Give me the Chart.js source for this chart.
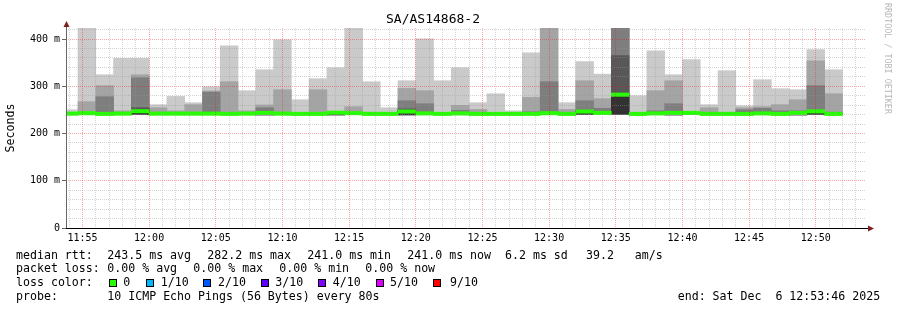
<!DOCTYPE html>
<html>
<head>
<meta charset="utf-8">
<script src="https://cdn.jsdelivr.net/npm/chart.js@4.4.1/dist/chart.umd.min.js"></script>
<style>
html, body { margin: 0; padding: 0; background: #fff; }
#wrap { position: relative; width: 897px; height: 310px; overflow: hidden; font-family: "DejaVu Sans Mono", monospace; }
#c { position: absolute; left: 0; top: 0; }
.t { position: absolute; font-size: 11.6px; line-height: 14px; white-space: pre; color: #000; }
.box { position: absolute; width: 6px; height: 6px; border: 1px solid #000; }
#wm { position: absolute; left: 883px; top: 3px; font-size: 8.4px; line-height: 9px; width: 9px; writing-mode: vertical-rl; color: #b8b8b8; white-space: pre; }
</style>
</head>
<body>
<div id="wrap">
  <canvas id="c" width="897" height="310"></canvas>
  <div id="wm">RRDTOOL / TOBI OETIKER</div>
  <div id="legend"></div>
</div>
<script>
// ---- data ----
const chartTitle = 'SA/AS14868-2';
const yTitle = 'Seconds';
const barTimes = ['11:54:00','11:55:20','11:56:40','11:58:00','11:59:20','12:00:40','12:02:00','12:03:20','12:04:40','12:06:00',
  '12:07:20','12:08:40','12:10:00','12:11:20','12:12:40','12:14:00','12:15:20','12:16:40','12:18:00','12:19:20',
  '12:20:40','12:22:00','12:23:20','12:24:40','12:26:00','12:27:20','12:28:40','12:30:00','12:31:20','12:32:40',
  '12:34:00','12:35:20','12:36:40','12:38:00','12:39:20','12:40:40','12:42:00','12:43:20','12:44:40','12:46:00',
  '12:47:20','12:48:40','12:50:00','12:51:20'];
// lowest ping (ms)
const rttLow = [240.8,240.8,240.5,240.8,240.8,240.8,240.8,240.8,240.8,240.5,
  240.8,239.5,240.8,240.5,240.5,239.5,240.8,240.5,240.5,239.5,
  240.8,240.5,240.8,240.5,240.5,240.5,240.8,240.8,240.5,240.8,
  240.8,240.8,240.5,240.8,239.5,240.8,240.5,240.5,240.5,240.8,
  240.5,239.5,240.8,240.5];
// upper edges of smoke layers: ping10 (max) ... ping6 (inner)
const ping10 = [250.4,424,324.4,359,359,261,278.5,265.2,299,385.8,
  290.6,335,398.5,271.5,316,339.3,424,309.6,254.6,311.7,
  400.6,311.7,339.3,265.2,284.2,248,371,424,265.2,352,
  325.6,424,280,375.2,324.4,356.2,261,332.9,258.8,313.9,
  294.8,292.7,377.4,335];
const ping9 = [244,267.3,301.2,248,324.4,254.6,248,261,290,309.6,
  248,260.3,292.7,244,292.7,246,256.7,245,244,295.5,
  290.6,244,259.6,251,244,243,276.4,424,251,311.7,
  273.7,424,244,290.6,311.7,247,254.6,245,254.6,256.7,
  261,271.5,354,284.2];
const ping8 = [243,245,277.9,243,318,243,243,243,287.6,244,
  243,254.6,244,242.5,244,244.5,244,242.5,242.5,269.4,
  263,242.5,249,243,242.5,242.5,246,309.6,243,269.4,
  253.5,424,242.5,248,263,244.5,243,242.5,250.3,253.5,
  248,248,301.2,245];
const ping7 = [242.6,243.6,244,242.6,254.6,242.6,242.6,242.6,244,242.5,
  242.6,244,242.6,242.2,242.5,244,243.5,242.2,242.2,252,
  244,242.2,243.5,242.2,242.2,242.2,242.5,245,242.2,248,
  245,364.7,242.2,243.5,245,244,242.2,242.2,242.5,245,
  242.5,244,248,242.5];
const ping6 = [242.3,243.2,242.5,242.3,250,242.3,242.3,242.3,242.5,242,
  242.3,243.5,242.3,242,242,243.5,243.2,242,242,249,
  243,242,243,242,242,242,242,243.5,242,247,
  244,283,242,243,244,243.8,242,242,242,243,
  242,243.8,247,242];
const medianRtt = [242.0,243.0,241.5,242.0,247.2,242.0,242.0,242.0,242.0,241.5,
  242.0,243.5,242.0,241.5,241.5,244.0,243.0,241.5,241.5,246.5,
  242.5,241.5,242.5,241.5,241.5,241.5,241.5,243.0,241.5,246.5,
  243.5,282.2,241.5,242.5,243.5,243.5,241.5,241.5,241.5,242.5,
  241.5,243.5,246.8,241.5];
const lossCount = [0,0,0,0,0,0,0,0,0,0, 0,0,0,0,0,0,0,0,0,0, 0,0,0,0,0,0,0,0,0,0, 0,0,0,0,0,0,0,0,0,0, 0,0,0,0];
const xTickLabels = ['11:55','12:00','12:05','12:10','12:15','12:20','12:25','12:30','12:35','12:40','12:45','12:50'];
const yTickLabels = ['0','100 m','200 m','300 m','400 m'];
const xStart = '11:53:46', xEnd = '12:53:46';
const yMax = 423.3;

const legendRows = [
  ['median rtt:', '243.5 ms avg', '282.2 ms max', '241.0 ms min', '241.0 ms now', '6.2 ms sd', '39.2   am/s'],
  ['packet loss:', '0.00 % avg', '0.00 % max', '0.00 % min', '0.00 % now'],
  ['probe:', '10 ICMP Echo Pings (56 Bytes) every 80s', 'end: Sat Dec  6 12:53:46 2025']
];
const lossLabels = ['0', '1/10', '2/10', '3/10', '4/10', '5/10', '9/10'];
const lossColors = ['#26ff00', '#00b8ff', '#0059ff', '#5e00ff', '#7e00ff', '#dd00ff', '#ff0000'];

// ---- styles / layout ----
const smokeColors = ['#cacaca', '#a4a4a4', '#7e7e7e', '#585858', '#323232'];
const MEDIAN_HALF = 3.6;
const MAJOR = 'rgba(255,0,0,0.34)';
const MINOR = 'rgba(150,150,150,0.40)';
const FONT = "'DejaVu Sans Mono', monospace";

const toSec = s => { const p = s.split(':').map(Number); return p[0] * 3600 + p[1] * 60 + (p[2] || 0); };
const pad = n => String(n).padStart(2, '0');
const fmt = v => pad(Math.floor(v / 3600)) + ':' + pad(Math.floor((v % 3600) / 60));

Chart.defaults.font.family = FONT;
Chart.defaults.color = '#000';

const layers = [ping10, ping9, ping8, ping7, ping6];
const datasets = layers.map((hi, i) => ({
  type: 'bar',
  data: barTimes.map((t, k) => ({ x: toSec(t), y: [rttLow[k], hi[k]] })),
  backgroundColor: smokeColors[i],
  borderWidth: 0,
  barPercentage: 1,
  categoryPercentage: 1,
  order: 10 - i
}));
datasets.push({
  type: 'bar',
  data: barTimes.map((t, k) => ({ x: toSec(t), y: [medianRtt[k] - MEDIAN_HALF, medianRtt[k] + MEDIAN_HALF] })),
  backgroundColor: lossCount.map(l => lossColors[l]),
  borderWidth: 0,
  barPercentage: 1,
  categoryPercentage: 1,
  order: 0
});

const xMin = toSec(xStart), xMax = toSec(xEnd);

const arrows = {
  id: 'arrows',
  afterDraw(chart) {
    const { ctx, chartArea: a } = chart;
    ctx.save();
    ctx.strokeStyle = '#666';
    ctx.lineWidth = 1;
    ctx.beginPath(); ctx.moveTo(a.left + 0.5, a.bottom); ctx.lineTo(a.left + 0.5, a.top - 2); ctx.stroke();
    ctx.strokeStyle = '#000';
    ctx.beginPath(); ctx.moveTo(a.left, a.bottom + 0.5); ctx.lineTo(a.right + 3, a.bottom + 0.5); ctx.stroke();
    ctx.fillStyle = '#7f1f1f';
    ctx.beginPath(); ctx.moveTo(a.left + 0.5, a.top - 7); ctx.lineTo(a.left - 2.5, a.top - 1); ctx.lineTo(a.left + 3.5, a.top - 1); ctx.closePath(); ctx.fill();
    ctx.beginPath(); ctx.moveTo(a.right + 8, a.bottom + 0.5); ctx.lineTo(a.right + 2, a.bottom - 2.5); ctx.lineTo(a.right + 2, a.bottom + 3.5); ctx.closePath(); ctx.fill();
    ctx.restore();
  }
};

new Chart(document.getElementById('c'), {
  type: 'bar',
  data: { datasets },
  plugins: [arrows],
  options: {
    responsive: false,
    animation: false,
    events: [],
    layout: { padding: { left: 0, right: 31, top: 0, bottom: 0 } },
    plugins: {
      legend: { display: false },
      tooltip: { enabled: false },
      title: {
        display: true, text: chartTitle, color: '#000',
        font: { family: FONT, size: 13, weight: 'normal', lineHeight: 1 },
        padding: { top: 13, bottom: 2 }
      }
    },
    scales: {
      x: {
        type: 'linear', min: xMin, max: xMax, offset: false, stacked: true,
        afterFit: ax => { ax.height = 82; },
        afterBuildTicks: ax => {
          ax.ticks = xTickLabels.map(l => ({ value: toSec(l) }));
        },
        grid: { offset: false, z: 1, drawTicks: false, lineWidth: 1, color: MAJOR },
        border: { display: false, dash: [1, 1] },
        ticks: {
          autoSkip: false, maxRotation: 0, padding: 4,
          font: { family: FONT, size: 10 },
          callback: v => fmt(v)
        }
      },
      xMinor: {
        type: 'linear', position: 'top', min: xMin, max: xMax, offset: false,
        afterFit: ax => { ax.height = 0; },
        afterBuildTicks: ax => {
          const t = [];
          for (let v = Math.ceil(xMin / 60) * 60; v <= xMax; v += 60) t.push({ value: v });
          ax.ticks = t;
        },
        grid: {
          offset: false, z: 1, drawTicks: false, lineWidth: 1,
          color: c => (c.tick && c.tick.value % 300 === 0) ? 'rgba(0,0,0,0)' : MINOR
        },
        border: { display: false, dash: [1, 1] },
        ticks: { display: false, autoSkip: false }
      },
      y: {
        type: 'linear', min: 0, max: yMax, stacked: false,
        afterFit: ax => { ax.width = 66; },
        afterBuildTicks: ax => {
          const t = [];
          for (let v = 0; v <= yMax; v += 20) t.push({ value: v });
          ax.ticks = t;
        },
        grid: {
          z: 1, drawTicks: true, tickLength: 4, lineWidth: 1,
          color: c => (c.tick && c.tick.value % 100 === 0) ? MAJOR : MINOR,
          tickColor: c => (c.tick && c.tick.value % 100 === 0) ? '#666' : 'rgba(0,0,0,0)'
        },
        border: { display: false, dash: [1, 1] },
        ticks: {
          autoSkip: false, padding: 2,
          font: { family: FONT, size: 10 },
          callback: v => (v % 100 === 0) ? yTickLabels[v / 100] : ''
        },
        title: {
          display: true, text: yTitle, color: '#000',
          font: { family: FONT, size: 11.6 },
          padding: { top: 4, bottom: 0 }
        }
      }
    }
  }
});

// ---- legend below chart (real text) ----
const leg = document.getElementById('legend');
function addText(txt, x, y) {
  const d = document.createElement('div');
  d.className = 't'; d.style.left = x + 'px'; d.style.top = y + 'px'; d.textContent = txt;
  leg.appendChild(d);
}
const row1X = [16, 107.3, 207.3, 307.3, 407.3, 505, 586];
legendRows[0].forEach((s, i) => addText(s, row1X[i], 247.5));
const row2X = [16, 107.3, 193.3, 279.3, 365.3];
legendRows[1].forEach((s, i) => addText(s, row2X[i], 261.2));
addText('loss color:', 16, 275);
const boxX = [108.7, 146, 203.3, 260.7, 318.3, 375.7, 433.3];
const labX = [123.3, 160.7, 218, 275.3, 332.7, 390, 450];
lossLabels.forEach((s, i) => {
  const b = document.createElement('div');
  b.className = 'box'; b.style.left = boxX[i] + 'px'; b.style.top = '278.5px'; b.style.background = lossColors[i];
  leg.appendChild(b);
  addText(s, labX[i], 275);
});
const row4X = [16, 107.3, 677.7];
legendRows[2].forEach((s, i) => addText(s, row4X[i], 288.7));
</script>
</body>
</html>
